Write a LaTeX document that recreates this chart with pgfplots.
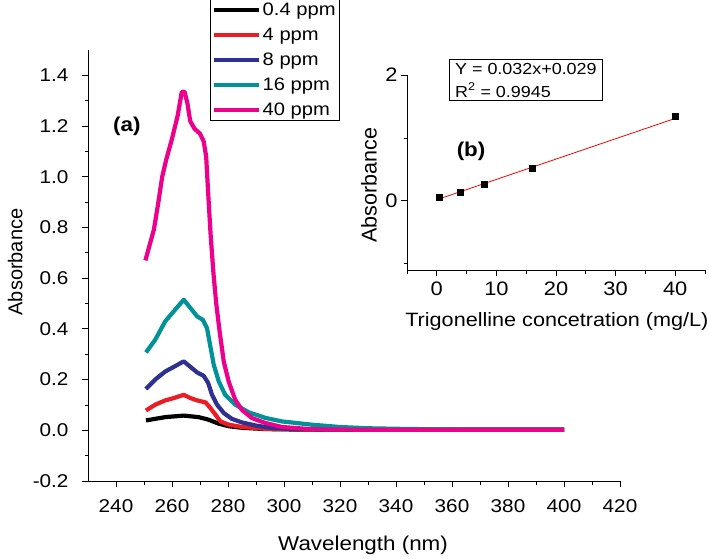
\documentclass[border=0pt]{standalone}
\usepackage{fontspec}
\setmainfont{Liberation Sans}[FakeStretch=1.12]
\newfontfamily\rotfont{Liberation Sans}
\usepackage{pgfplots}
\pgfplotsset{compat=1.18}
\definecolor{cRed}{RGB}{237,28,36}
\definecolor{cBlue}{RGB}{46,49,146}
\definecolor{cTeal}{RGB}{0,146,150}
\definecolor{cPink}{RGB}{236,0,140}
\pgfplotsset{
  every axis/.append style={
    /pgf/number format/assume math mode=true,
    axis line style={-, line width=0.8pt},
    every tick/.style={black, line width=0.8pt},
    tick align=outside,
    major tick length=6pt, minor tick length=3.5pt,
    tick label style={font=\fontsize{18.5}{21}\selectfont},
  }
}
\begin{document}
\begin{tikzpicture}
\path[use as bounding box] (0,0) rectangle (709pt,558pt);
% (a) spectra
\begin{axis}[
  at={(88pt,77pt)}, anchor=south west,
  scale only axis, width=532pt, height=431pt,
  xmin=230, xmax=420, ymin=-0.2, ymax=1.5,
  axis x line*=bottom, axis y line*=left,
  xtick={240,260,280,300,320,340,360,380,400,420},
  ytick={-0.2,0,0.2,0.4,0.6,0.8,1.0,1.2,1.4},
  minor x tick num=1, minor y tick num=1,
  yticklabel style={xshift=-10pt, /pgf/number format/.cd, fixed, fixed zerofill, precision=1},
  xticklabel style={yshift=-9pt},
  xlabel={Wavelength (nm)}, ylabel={Absorbance},
  xlabel style={font=\fontsize{20}{24}\selectfont, at={(axis description cs:0.517,-0.1485)}, anchor=center},
  ylabel style={font=\rotfont\fontsize{20}{24}\selectfont, at={(axis description cs:-0.137,0.508)}, anchor=center},
  legend style={at={(0.229,1.118)}, anchor=north west, draw=black, line width=0.8pt,
    font=\fontsize{18}{21}\selectfont, row sep=7pt, inner sep=1.5pt},
  legend cell align=left,
  legend image code/.code={\draw[#1, line width=4pt] (0pt,0pt) -- (45pt,0pt);},
  every axis plot/.append style={line width=4.2pt, line join=round},
]
\addplot[black] coordinates {
(250.7,0.039) (257.6,0.052) (264.2,0.058) (269.5,0.052) (273,0.042) (276.7,0.026)
(280.3,0.016) (285,0.010) (293,0.005) (305,0.003) (330,0.002) (400,0.002)};
\addlegendentry{0.4 ppm}
\addplot[cRed] coordinates {
(250.7,0.078) (254,0.101) (257.6,0.118) (260.6,0.127) (264.2,0.140) (266.6,0.127)
(269,0.118) (272,0.110) (273.7,0.088) (275.5,0.062) (277.3,0.035) (280.3,0.022)
(285,0.013) (293.3,0.006) (305,0.003) (330,0.002) (400,0.002)};
\addlegendentry{4 ppm}
\addplot[cBlue] coordinates {
(250.7,0.163) (254,0.200) (257.6,0.232) (260.6,0.250) (264.2,0.272) (266.6,0.250)
(269,0.228) (271.3,0.215) (272.9,0.187) (274.3,0.140) (276.1,0.101) (278.5,0.068)
(281.4,0.045) (285,0.031) (289.8,0.019) (295.7,0.009) (305,0.004) (330,0.002) (400,0.002)};
\addlegendentry{8 ppm}
\addplot[cTeal] coordinates {
(250.7,0.307) (254,0.357) (257.6,0.430) (260.6,0.469) (264.2,0.515) (266.6,0.482)
(269,0.449) (271,0.436) (272.5,0.403) (273.7,0.331) (274.9,0.259) (276.7,0.193)
(279,0.140) (282.6,0.101) (287.4,0.071) (293.3,0.049) (299.3,0.035) (310,0.022)
(320,0.013) (330,0.008) (345,0.005) (370,0.003) (400,0.003)};
\addlegendentry{16 ppm}
\addplot[cPink] coordinates {
(250.5,0.67) (252,0.73) (253.5,0.79) (255,0.89) (256.5,1.00) (258,1.07) (260,1.15)
(262,1.24) (263.5,1.335) (264.5,1.335) (265.5,1.29) (266.5,1.22) (268,1.19)
(270,1.17) (271.3,1.14) (272.2,1.08) (273,0.92) (273.8,0.77) (274.8,0.62)
(275.8,0.50) (277,0.39) (278.5,0.27) (280.3,0.19) (282.6,0.12) (285,0.08)
(288.6,0.048) (293.3,0.029) (299.3,0.013) (310,0.004) (330,0.002) (400,0.002)};
\addlegendentry{40 ppm}
\node[font=\bfseries\fontsize{20}{24}\selectfont] at (rel axis cs:0.073,0.822) {(a)};
\end{axis}
% (b) calibration inset
\begin{axis}[
  at={(407pt,288pt)}, anchor=south west,
  scale only axis, width=298pt, height=195pt, clip=false,
  xmin=-5, xmax=45, ymin=-1.1, ymax=2,
  axis x line*=bottom, axis y line*=left,
  xtick={0,10,20,30,40}, ytick={0,2},
  minor xtick={-5,5,15,25,35,45}, minor ytick={-1,1},
  tick label style={font=\fontsize{19.5}{22}\selectfont},
  xticklabel style={yshift=-2pt},
  xlabel={Trigonelline concetration (mg/L)}, ylabel={Absorbance},
  xlabel style={font=\fontsize{19.3}{23}\selectfont, at={(axis description cs:0.503,-0.264)}, anchor=center},
  ylabel style={font=\rotfont\fontsize{21.5}{24}\selectfont, at={(axis description cs:-0.128,0.436)}, anchor=center},
]
\addplot[red, line width=0.8pt] coordinates {(0.4,0.030) (40,1.310)};
\addplot[only marks, mark=square*, mark size=3pt, black] coordinates {
(0.4,0.057) (4,0.134) (8,0.268) (16,0.515) (40,1.340)};
\node[draw, line width=0.8pt, align=left, inner xsep=6pt, inner ysep=3.5pt,
  minimum width=140pt, font=\fontsize{16}{22.7}\selectfont] at (rel axis cs:0.399,0.973)
  {Y = 0.032x+0.029\\R\textsuperscript{2} = 0.9945};
\node[font=\bfseries\fontsize{20}{24}\selectfont] at (rel axis cs:0.215,0.61) {(b)};
\end{axis}
\end{tikzpicture}
\end{document}
